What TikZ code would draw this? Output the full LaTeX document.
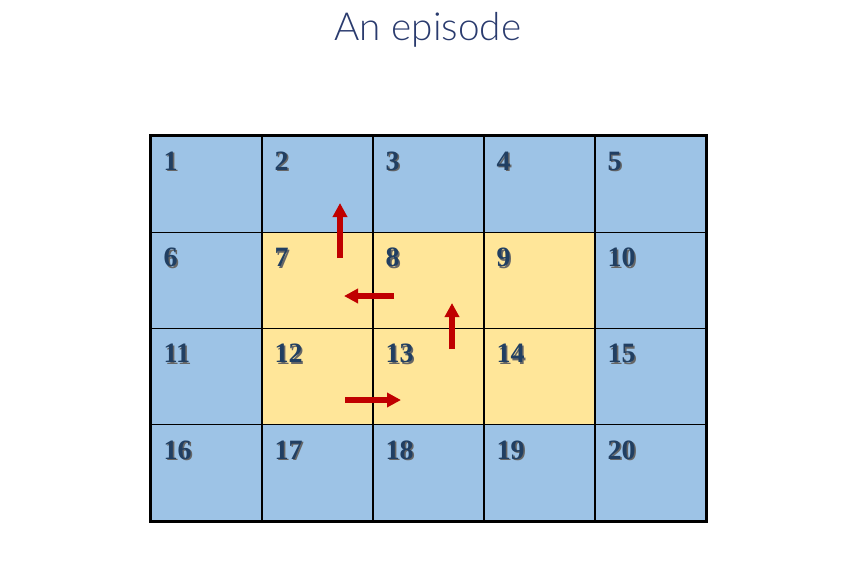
\documentclass[tikz,border=0pt]{standalone}
\usepackage{fontspec}
\setmainfont{Liberation Serif}
\newfontfamily\titlefont{Lato Light}
\usetikzlibrary{arrows.meta}
\definecolor{cellblue}{HTML}{9DC3E6}
\definecolor{cellyellow}{HTML}{FFE699}
\definecolor{numcol}{HTML}{213F62}
\definecolor{titlecol}{HTML}{2A3B6E}
\definecolor{arrred}{HTML}{C00000}
\newcommand{\shadenum}[1]{\rlap{\hspace{1.1pt}\raisebox{-1.1pt}{\color{black!60}#1}}#1}
\tikzstyle{cell} = [draw=black, line width=0.9pt, minimum width=83.25pt, minimum height=72.2pt, inner sep=0pt, fill=cellblue]
\tikzstyle{num} = [anchor=base west, inner sep=0pt, text=numcol, font=\fontsize{21}{21}\selectfont\bfseries]
\tikzstyle{move} = [line width=3.8pt, arrred, -{Triangle[length=10.5pt,width=10.5pt]}]

\begin{document}
\begin{tikzpicture}[x=0.75pt,y=-0.75pt]
    \useasboundingbox (0,0) rectangle (857,583);
    \node[titlecol,font=\titlefont\fontsize{29}{29}\selectfont] (title) at (428,30) {An episode};
    \foreach \n in {1,...,20}{
        \pgfmathtruncatemacro{\col}{mod(\n-1,5)}
        \pgfmathtruncatemacro{\row}{div(\n-1,5)}
        \node[cell] (c\n) at (206.5+111*\col,184.1+96.25*\row) {};
    }
    \foreach \n in {7,8,9,12,13,14}{
        \node[cell,fill=cellyellow] at (c\n) {};
    }
    \foreach \n in {1,...,20}{
        \path (c\n.north west) ++(13,35) node[num] (n\n) {\shadenum{\n}};
    }
    \draw[line width=2.6pt] (c1.north west) rectangle (c20.south east);
    \coordinate (s1) at (340,258); \coordinate (e1) at (340,203);
    \coordinate (s2) at (394,296); \coordinate (e2) at (344,296);
    \coordinate (s3) at (452,349); \coordinate (e3) at (452,303);
    \coordinate (s4) at (345,400); \coordinate (e4) at (401,400);
    \foreach \k in {1,...,4}{
        \draw[move] (s\k) -- (e\k);
    }
\end{tikzpicture}
\end{document}
